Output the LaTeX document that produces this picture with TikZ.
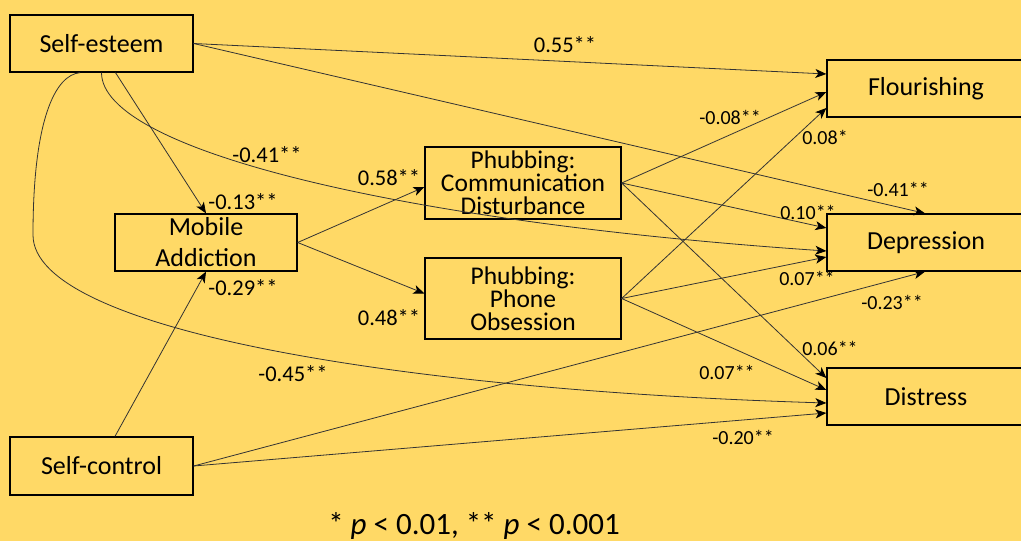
\documentclass[tikz,border=0pt]{standalone}
\usepackage{fontspec}
\setmainfont{Carlito}
\usetikzlibrary{arrows.meta,calc}
\definecolor{bgyellow}{HTML}{FFD966}
\definecolor{edgegray}{HTML}{333333}
\begin{document}
\begin{tikzpicture}[x=1pt,y=-1pt,
  varbox/.style={draw=black,line width=1.3pt,fill=bgyellow,inner sep=0pt,align=center,
    font=\fontsize{25.5}{23}\selectfont},
  path/.style={draw=edgegray,line width=0.8pt,-{Stealth[length=11pt,width=9pt,inset=3pt,black]}},
  biglab/.style={font=\fontsize{22.5}{24}\selectfont,inner sep=0pt},
  smalllab/.style={font=\fontsize{20}{22}\selectfont,inner sep=0pt}]
\fill[bgyellow] (0,0) rectangle (1021,541);
\useasboundingbox (0,0) rectangle (1021,541);

\node[varbox,minimum width=183pt,minimum height=57pt,font=\fontsize{26}{28}\selectfont] (se) at (101.5,43.5) {Self-esteem};
\node[varbox,minimum width=183pt,minimum height=58pt,font=\fontsize{26}{28}\selectfont] (sc) at (101.5,466) {Self-control};
\node[varbox,minimum width=182pt,minimum height=57pt,font=\fontsize{26}{31}\selectfont] (ma) at (206,242.5) {Mobile\\Addiction};
\node[varbox,minimum width=196pt,minimum height=72pt] (cd) at (523,183) {Phubbing:\\Communication\\Disturbance};
\node[varbox,minimum width=196pt,minimum height=81pt] (po) at (523,298.5) {Phubbing:\\Phone\\Obsession};
\node[varbox,minimum width=198pt,minimum height=57pt,font=\fontsize{26}{28}\selectfont] (fl) at (926,88.5) {Flourishing};
\node[varbox,minimum width=198pt,minimum height=57pt,font=\fontsize{26}{28}\selectfont] (dep) at (926,242.5) {Depression};
\node[varbox,minimum width=198pt,minimum height=57pt,font=\fontsize{26}{28}\selectfont] (dis) at (926,396.5) {Distress};

% Self-esteem paths
\draw[path] (se.east) -- ([yshift=14.5pt]fl.west);
\draw[path] (se.east) -- ([xshift=-1pt]dep.north);
\draw[path] (se.south) .. controls (101.5,150) and (400,222) .. ([yshift=-8.5pt]dep.west);
\draw[path] ([xshift=14pt]se.south) -- (ma.north);
\draw[path] ([xshift=-21.5pt]se.south) .. controls (55,75) and (33,120) .. (33,235)
   .. controls (33,330) and (400,390) .. ([yshift=-6.5pt]dis.west);

% Self-control paths
\draw[path] ([xshift=13.5pt]sc.north) -- (ma.south);
\draw[path] (sc.east) -- ([xshift=-1pt]dep.south);
\draw[path] (sc.east) -- ([yshift=-16.5pt]dis.west);

% Mobile addiction paths
\draw[path] (ma.east) -- ([yshift=-4pt]cd.west);
\draw[path] (ma.east) -- ([yshift=5pt]po.west);

% Communication disturbance
\draw[path] (cd.east) -- ([yshift=-3.5pt]fl.west);
\draw[path] (cd.east) -- ([yshift=14.5pt]dep.west);
\draw[path] (cd.east) -- ([yshift=18.5pt]dis.west);

% Phone obsession
\draw[path] (po.east) -- ([yshift=-19.5pt]fl.west);
\draw[path] (po.east) -- ([yshift=-14.5pt]dep.west);
\draw[path] (po.east) -- ([yshift=6.5pt]dis.west);

% labels
\node[biglab] (l1) at (565,45) {0.55**};
\node[biglab] (l2) at (267,155) {-0.41**};
\node[biglab] (l3) at (243,202) {-0.13**};
\node[biglab] (l4) at (243,288) {-0.29**};
\node[biglab] (l5) at (389,178) {0.58**};
\node[biglab] (l6) at (389,318) {0.48**};
\node[biglab] (l7) at (293,374) {-0.45**};
\node[smalllab] (l8) at (898,189) {-0.41**};
\node[smalllab] (l9) at (730,117) {-0.08**};
\node[smalllab] (l10) at (825,137) {0.08*};
\node[smalllab] (l11) at (808,212) {0.10**};
\node[smalllab] (l12) at (807,278) {0.07**};
\node[smalllab] (l13) at (892,302) {-0.23**};
\node[smalllab] (l14) at (830,348) {0.06**};
\node[smalllab] (l15) at (727,372) {0.07**};
\node[smalllab] (l16) at (743,437) {-0.20**};

\node[font=\fontsize{31}{33}\selectfont,inner sep=0pt] (note) at (474,526) {* \textit{p} < 0.01, ** \textit{p} < 0.001};
\end{tikzpicture}
\end{document}
